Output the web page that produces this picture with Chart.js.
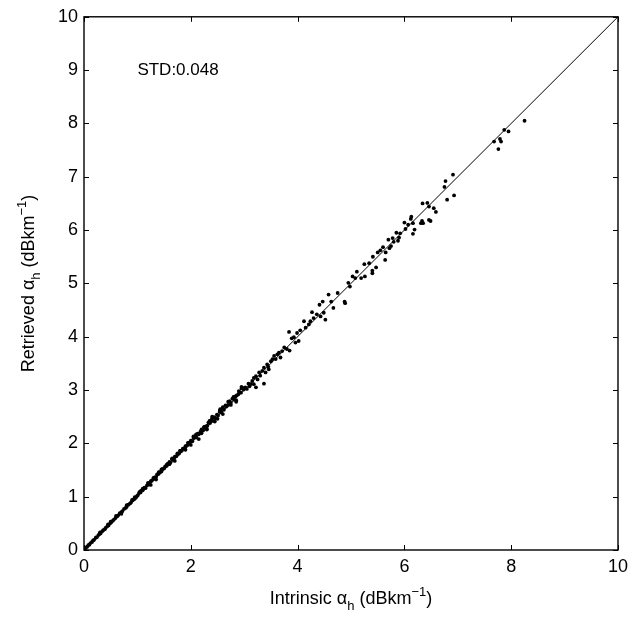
<!DOCTYPE html>
<html>
<head>
<meta charset="utf-8">
<script src="https://cdn.jsdelivr.net/npm/chart.js@4.4.0/dist/chart.umd.min.js"></script>
<style>
  html, body { margin: 0; padding: 0; background: #fff; }
  #wrap { width: 634px; height: 620px; }
</style>
</head>
<body>
<div id="wrap"><canvas id="chart" width="634" height="620"></canvas></div>
<script>
// intrinsic vs retrieved alpha_h
const band1X = [0.02,0.04,0.06,0.08,0.10,0.12,0.15,0.17,0.19,0.22, 0.24,0.27,0.29,0.31,0.34,0.36,0.39,0.41,0.44,0.46,
                0.49,0.51,0.54,0.56,0.59,0.62,0.64,0.67,0.70,0.72, 0.75,0.78,0.80,0.83,0.86,0.88,0.91,0.94,0.97,0.99];
const band1Y = [0.02,0.05,0.06,0.09,0.10,0.13,0.15,0.18,0.19,0.23, 0.24,0.28,0.30,0.31,0.35,0.37,0.39,0.42,0.45,0.46,
                0.50,0.52,0.55,0.57,0.60,0.63,0.65,0.69,0.71,0.73, 0.77,0.79,0.81,0.85,0.87,0.89,0.93,0.95,0.98,1.01];

const band2X = [1.01,1.03,1.06,1.08,1.10,1.13,1.15,1.18,1.20,1.22, 1.25,1.27,1.30,1.32,1.35,1.37,1.40,1.42,1.45,1.47,
                1.50,1.52,1.55,1.57,1.60,1.62,1.65,1.68,1.70,1.73, 1.75,1.78,1.80,1.83,1.85,1.88,1.90,1.93,1.95,1.98];
const band2Y = [1.03,1.07,1.08,1.12,1.12,1.17,1.16,1.21,1.24,1.23, 1.29,1.30,1.33,1.36,1.37,1.42,1.43,1.46,1.47,1.52,
                1.53,1.57,1.58,1.62,1.65,1.64,1.70,1.71,1.75,1.76, 1.80,1.81,1.86,1.86,1.90,1.91,1.95,1.96,2.01,2.02];

const band3X = [2.00,2.03,2.05,2.08,2.10,2.13,2.15,2.18,2.20,2.23, 2.25,2.28,2.31,2.33,2.36,2.38,2.41,2.44,2.46,2.49,
                2.51,2.54,2.57,2.59,2.62,2.65,2.67,2.70,2.73,2.75, 2.78,2.81,2.83,2.86,2.89,2.91,2.94,2.97,2.99,2.15,
                2.40,2.60,2.70,2.85,2.95,2.55,2.30];
const band3Y = [2.05,2.04,2.10,2.12,2.11,2.18,2.17,2.22,2.26,2.24, 2.30,2.32,2.33,2.39,2.38,2.43,2.42,2.49,2.47,2.54,
                2.52,2.59,2.58,2.65,2.63,2.70,2.69,2.72,2.79,2.76, 2.84,2.82,2.88,2.90,2.92,2.96,2.95,3.04,3.01,2.08,
                2.50,2.55,2.78,2.78,3.06,2.64,2.27];

const fillX = [0.50,0.70,0.90,1.10,1.25,1.40,1.60,1.75,1.90,2.05, 2.20,2.35,2.45,2.60,2.75,2.90,
               0.30,0.45,0.60,0.80,0.95,1.05,1.20,1.30,1.45,1.55, 1.65,1.80,1.95,2.10,2.25,2.40,2.55,2.65,2.80,2.95,
               1.35,1.70,2.00,2.30,2.50,2.85];
const fillY = [0.53,0.68,0.94,1.15,1.22,1.46,1.61,1.81,1.88,2.13, 2.19,2.42,2.41,2.68,2.72,2.98,
               0.33,0.48,0.64,0.84,0.99,1.10,1.26,1.35,1.51,1.60, 1.72,1.86,2.01,2.17,2.31,2.47,2.62,2.71,2.87,3.03,
               1.32,1.67,1.97,2.26,2.46,2.81];

const band4X = [5.41,5.64,5.25,5.34,5.47,5.40,5.40,5.11,5.03,5.08, 5.19,5.26,4.95,4.98,4.88,4.89,4.75,4.58,4.47,4.41,
                4.63,4.67,4.27,4.36,4.43,4.49,4.52,4.30,4.24,4.12, 4.21,4.15,4.05,3.84,3.99,3.93,4.02,3.89,3.96,3.85,
                3.71,3.62,3.68,3.56,3.53,3.50,3.59,3.43,3.46,3.37, 3.34,3.28,3.40,3.22,3.18,3.15,3.12,3.18,3.22,3.37,
                3.02,3.05,3.08,3.10,3.25,3.30,3.45,3.65,3.75,3.80];
const band4Y = [5.50,5.44,5.36,5.38,5.30,5.24,5.19,5.22,5.13,5.10, 5.10,5.13,5.01,4.94,4.66,4.63,4.82,4.79,4.66,4.60,
                4.66,4.54,4.46,4.42,4.38,4.45,4.32,4.35,4.29,4.29, 4.23,4.17,4.12,4.09,4.07,3.99,3.92,3.97,3.89,3.74,
                3.73,3.67,3.61,3.64,3.58,3.54,3.58,3.48,3.39,3.42, 3.36,3.33,3.33,3.26,3.23,3.17,3.11,3.11,3.05,3.12,
                3.05,3.02,3.12,3.07,3.20,3.27,3.44,3.70,3.80,3.77];

const band5X = [5.55,5.50,5.60,5.65,5.70,5.72,5.75,5.78,5.80,5.85, 5.88,5.90,5.92,6.00,6.02,6.07,6.12,6.13,6.16,6.16,
                6.19,6.31,6.33,6.35,6.34,6.43,6.46,6.46,6.49,6.55, 6.59,6.75,6.77,6.80,6.91,6.93,7.68,7.76,7.79,7.81,
                7.87,7.95,8.25];
const band5Y = [5.62,5.58,5.68,5.58,5.82,5.66,5.70,5.85,5.78,5.95, 5.80,5.86,5.94,6.14,6.02,6.10,6.21,6.25,6.13,5.93,
                6.01,6.13,6.17,6.13,6.50,6.51,6.44,6.19,6.17,6.41, 6.34,6.81,6.92,6.57,7.04,6.65,7.66,7.52,7.71,7.66,
                7.88,7.85,8.05];

const lineX = [0, 10];
const lineY = [0, 10];
const xTicks = [0, 2, 4, 6, 8, 10];
const yTicks = [0, 1, 2, 3, 4, 5, 6, 7, 8, 9, 10];
const stdText = 'STD:0.048';

const FONT = '"Liberation Sans", Arial, Helvetica, sans-serif';

const allX = [].concat(band1X, band2X, band3X, fillX, band4X, band5X);
const allY = [].concat(band1Y, band2Y, band3Y, fillY, band4Y, band5Y);
const points = [];
for (let i = 0; i < Math.min(allX.length, allY.length); i++) {
    points.push({ x: allX[i], y: allY[i] });
}

// draw a run of text with sub/superscript pieces, centred on x
function richText(ctx, parts, x, y) {
    let w = 0;
    parts.forEach(p => {
        ctx.font = p.size + 'px ' + FONT;
        w += ctx.measureText(p.t).width;
    });
    let cx = x - w / 2;
    parts.forEach(p => {
        ctx.font = p.size + 'px ' + FONT;
        ctx.fillText(p.t, cx, y + (p.dy || 0));
        cx += ctx.measureText(p.t).width;
    });
}

const matlabFrame = {
    id: 'matlabFrame',
    afterDatasetsDraw(chart) {
        const { ctx, chartArea: a, scales } = chart;
        const x = scales.x, y = scales.y;
        ctx.save();
        ctx.strokeStyle = '#000';
        ctx.lineWidth = 1.4;
        ctx.strokeRect(a.left, a.top, a.right - a.left, a.bottom - a.top);

        // inward ticks on all four sides
        ctx.lineWidth = 1;
        const tl = 5;
        ctx.beginPath();
        xTicks.forEach(v => {
            const px = Math.round(x.getPixelForValue(v)) + 0.5;
            ctx.moveTo(px, a.bottom); ctx.lineTo(px, a.bottom - tl);
            ctx.moveTo(px, a.top); ctx.lineTo(px, a.top + tl);
        });
        yTicks.forEach(v => {
            const py = Math.round(y.getPixelForValue(v)) + 0.5;
            ctx.moveTo(a.left, py); ctx.lineTo(a.left + tl, py);
            ctx.moveTo(a.right, py); ctx.lineTo(a.right - tl, py);
        });
        ctx.stroke();

        ctx.fillStyle = '#000';
        ctx.textBaseline = 'middle';
        ctx.textAlign = 'left';
        ctx.font = '17px ' + FONT;
        ctx.fillText(stdText, x.getPixelForValue(1.0), y.getPixelForValue(9));

        // axis titles
        ctx.textBaseline = 'alphabetic';
        ctx.textAlign = 'left';
        const cxm = (a.left + a.right) / 2;
        richText(ctx, [
            { t: 'Intrinsic \u03b1', size: 18 },
            { t: 'h', size: 13, dy: 6 },
            { t: ' (dBkm', size: 18 },
            { t: '\u22121', size: 13, dy: -8 },
            { t: ')', size: 18 }
        ], cxm, 604);

        ctx.save();
        ctx.translate(34, (a.top + a.bottom) / 2);
        ctx.rotate(-Math.PI / 2);
        richText(ctx, [
            { t: 'Retrieved \u03b1', size: 18 },
            { t: 'h', size: 13, dy: 6 },
            { t: ' (dBkm', size: 18 },
            { t: '\u22121', size: 13, dy: -8 },
            { t: ')', size: 18 }
        ], 0, 0);
        ctx.restore();
        ctx.restore();
    }
};

const ctx = document.getElementById('chart').getContext('2d');
new Chart(ctx, {
    type: 'scatter',
    data: {
        datasets: [
            {
                type: 'line',
                data: lineX.map((v, i) => ({ x: v, y: lineY[i] })),
                borderColor: '#000',
                borderWidth: 1,
                pointRadius: 0,
                fill: false
            },
            {
                data: points,
                backgroundColor: '#000',
                borderWidth: 0,
                pointRadius: 1.9
            }
        ]
    },
    options: {
        responsive: false,
        animation: false,
        layout: { autoPadding: false, padding: { left: 0, right: 13, top: 14, bottom: 0 } },
        plugins: { legend: { display: false }, tooltip: { enabled: false } },
        scales: {
            x: {
                type: 'linear', min: 0, max: 10,
                afterBuildTicks: s => { s.ticks = xTicks.map(v => ({ value: v })); },
                afterFit: s => { s.height = 70; },
                grid: { display: false, drawTicks: false },
                border: { display: false },
                ticks: { color: '#000', padding: 6, font: { family: FONT, size: 18 } }
            },
            y: {
                type: 'linear', min: 0, max: 10,
                afterBuildTicks: s => { s.ticks = yTicks.map(v => ({ value: v })); },
                afterFit: s => { s.width = 84; },
                grid: { display: false, drawTicks: false },
                border: { display: false },
                ticks: { color: '#000', padding: 6, font: { family: FONT, size: 18 } }
            }
        }
    },
    plugins: [matlabFrame]
});
</script>
</body>
</html>
